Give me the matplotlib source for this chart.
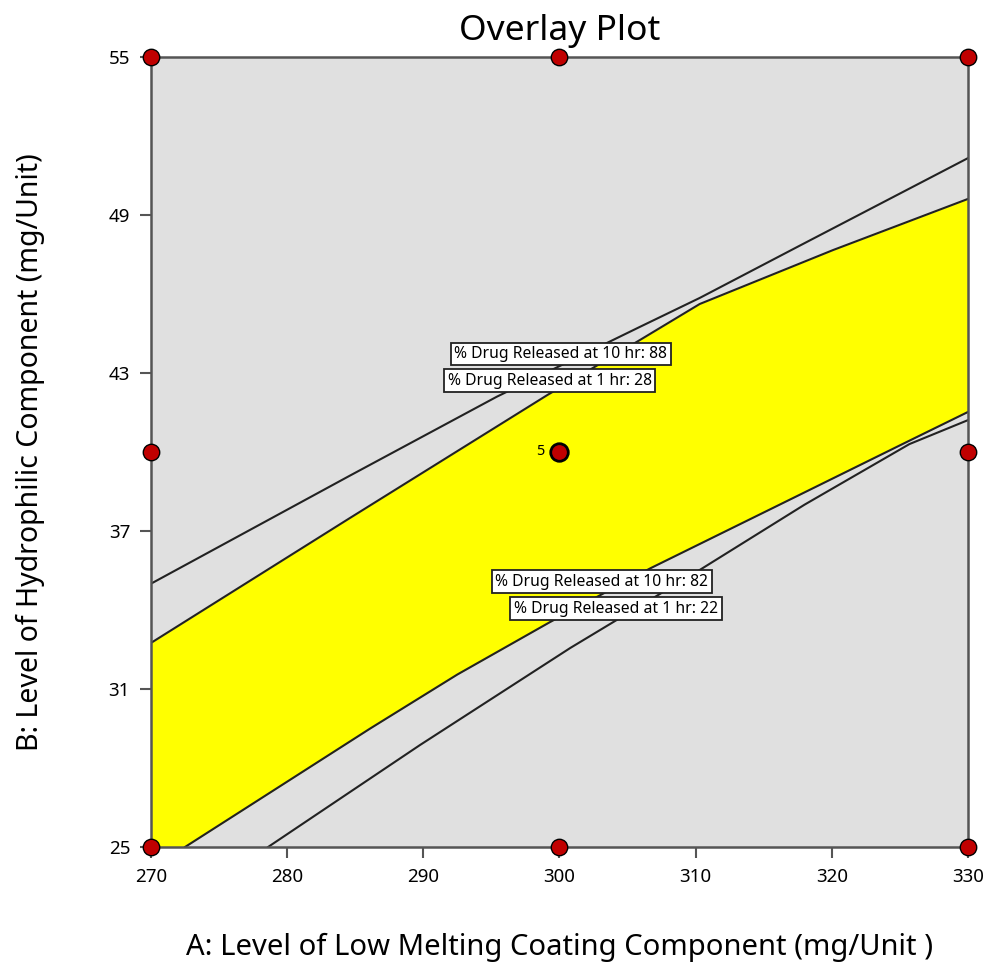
import numpy as np
import matplotlib
matplotlib.use("Agg")
import matplotlib.pyplot as plt

plt.rcParams["font.family"] = ["Noto Sans", "DejaVu Sans"]

# contour lines (A: mg/Unit, B: mg/Unit)
r10_88_x = [270.0, 284.6, 295.4, 305.9, 310.3, 317.7, 330.0]
r10_88_y = [35.0, 39.1, 42.1, 44.75, 45.85, 47.85, 51.16]

r1_28_x = [270.0, 284.6, 299.1, 305.9, 310.3, 320.1, 330.0]
r1_28_y = [32.75, 37.49, 42.16, 44.25, 45.62, 47.67, 49.61]

r10_82_x = [272.5, 279.0, 286.1, 292.5, 299.3, 306.7, 317.7, 325.7, 330.0]
r10_82_y = [25.0, 27.15, 29.5, 31.55, 33.54, 35.59, 38.39, 40.43, 41.52]

r1_22_x = [278.6, 289.75, 300.8, 310.3, 318.0, 325.7, 330.0]
r1_22_y = [25.0, 28.87, 32.56, 35.52, 38.0, 40.3, 41.21]

# design points
pts_x = [270, 270, 270, 300, 300, 330, 330, 330]
pts_y = [25, 40, 55, 25, 55, 25, 40, 55]
center = (300, 40)
center_runs = "5"

labels = ["% Drug Released at 10 hr: 88", "% Drug Released at 1 hr: 28",
          "% Drug Released at 10 hr: 82", "% Drug Released at 1 hr: 22"]
label_x = [300.1, 299.3, 303.1, 304.15]
label_y = [43.72, 42.71, 35.08, 34.04]

xticks = [270, 280, 290, 300, 310, 320, 330]
yticks = [25, 31, 37, 43, 49, 55]

fig = plt.figure(figsize=(9.87, 9.66), dpi=100)
ax = fig.add_axes([0.153, 0.1232, 0.8277, 0.8178])
ax.set_facecolor("#e0e0e0")

# yellow design space between the constraints
xx = np.linspace(270, 330, 601)
upper = np.minimum(np.interp(xx, r10_88_x, r10_88_y), np.interp(xx, r1_28_x, r1_28_y))
lower = np.maximum(np.interp(xx, r10_82_x, r10_82_y), np.interp(xx, r1_22_x, r1_22_y))
lower = np.maximum(lower, 25)
ax.fill_between(xx, lower, upper, color="#ffff00", lw=0, zorder=1)

for cx, cy in [(r10_88_x, r10_88_y), (r1_28_x, r1_28_y),
               (r10_82_x, r10_82_y), (r1_22_x, r1_22_y)]:
    ax.plot(cx, cy, color="#222222", lw=1.5, zorder=2)

for t, lx, ly in zip(labels, label_x, label_y):
    ax.text(lx, ly, t, fontsize=11.3, ha="center", va="center", zorder=4,
            bbox=dict(boxstyle="square,pad=0.22", fc="white", ec="#222222", lw=1.3))

ax.scatter(pts_x, pts_y, s=140, c="#c00000", edgecolors="black", linewidths=1.0,
           zorder=5, clip_on=False)
ax.scatter([center[0]], [center[1]], s=160, c="#c00000", edgecolors="black",
           linewidths=2.0, zorder=5, clip_on=False)
ax.text(center[0] - 1.1, center[1], center_runs, fontsize=10.5, ha="right", va="center", zorder=5)

ax.set_xlim(270, 330)
ax.set_ylim(25, 55)
ax.set_xticks(xticks)
ax.set_yticks(yticks)
ax.tick_params(labelsize=13.5, length=8, width=1.5, color="#555555", pad=7)
for s in ax.spines.values():
    s.set_color("#555555")
    s.set_linewidth(1.8)

ax.set_title("Overlay Plot", fontsize=25.5, pad=12)
ax.set_xlabel("A: Level of Low Melting Coating Component (mg/Unit )", fontsize=21, labelpad=34)
ax.set_ylabel("B: Level of Hydrophilic Component (mg/Unit)", fontsize=20.5, labelpad=46)

fig.savefig("out.png", dpi=100)
